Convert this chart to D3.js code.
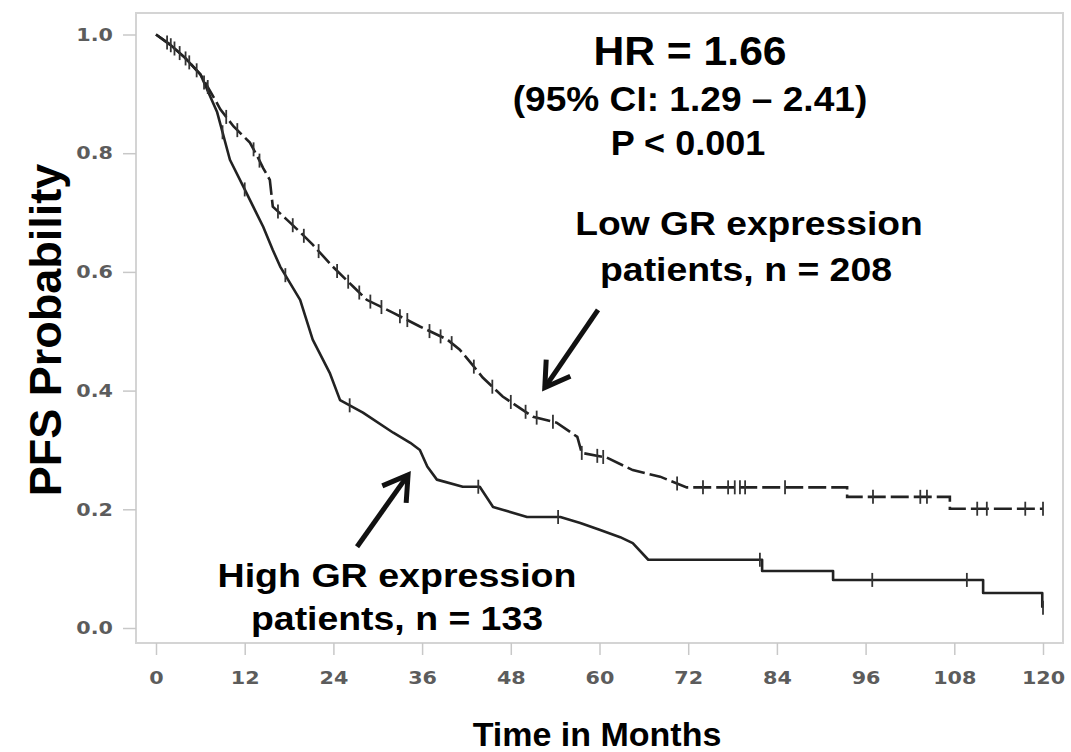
<!DOCTYPE html>
<html><head><meta charset="utf-8">
<script src="https://cdn.jsdelivr.net/npm/d3@7"></script>
<style>body{margin:0;background:#fff} svg{display:block}</style>
</head><body><svg id="c" width="1071" height="752"></svg>
<script>
// ---- data ----
const xTicks = [0,12,24,36,48,60,72,84,96,108,120];
const yTicks = [0,0.2,0.4,0.6,0.8,1.0];

// Low GR expression (upper curve)
const lowTime = [0,1.9,3.9,6.0,8.0,8.7,10.5,12.7,13.7,14.5,15.4,15.8,17.7,19.5,21.2,23.9,26.7,28.5,32.1,35.7,39.4,41.1,42.7,44.2,46.9,51.0,54.2,57.0,57.6,61.0,64.5,68.2,71.8,93.5,93.5,107.4,107.4,120];
const lowSurv = [1,0.983,0.961,0.933,0.89,0.874,0.845,0.818,0.795,0.775,0.755,0.71,0.688,0.667,0.646,0.609,0.575,0.553,0.531,0.508,0.486,0.469,0.445,0.422,0.390,0.356,0.346,0.322,0.295,0.287,0.266,0.255,0.237,0.237,0.221,0.221,0.201,0.201];
const lowCensor = [1.5,2.5,3.2,4.5,5.5,7,9.5,11,13.2,14,16.5,18.5,20,22,24.5,26,27.5,29,30.5,33,34,37,38.5,40,43,45.5,48,50,51.5,53.7,57.6,59.7,60.5,70.5,74,77.4,78.3,79,79.7,85.1,97,103.4,104.3,111.1,112.4,117.6,120];

// High GR expression (lower curve)
const highTime = [0,1.9,3.9,6.0,8.25,10.0,11.8,14.5,15.8,16.8,19.5,21.2,23.5,24.9,28.0,32.1,34.4,35.7,36.7,38.0,41.5,43.8,45.6,50.2,54.7,57.4,60.1,62.8,64.5,66.6,82.0,82.0,91.6,91.6,111.9,111.9,119.9,119.9];
const highSurv = [1,0.983,0.961,0.933,0.870,0.789,0.744,0.676,0.637,0.609,0.553,0.486,0.430,0.384,0.363,0.329,0.312,0.300,0.272,0.250,0.238,0.238,0.204,0.187,0.187,0.177,0.165,0.153,0.143,0.115,0.115,0.096,0.096,0.081,0.081,0.059,0.059,0.034];
const highCensor = [2,4,6.5,9,12,17.5,26.2,43.6,54.4,81.7,96.9,109.7,120];

// annotation text
const statLines = ["HR = 1.66","(95% CI: 1.29 \u2013 2.41)","P < 0.001"];
const lowLabel = ["Low GR expression","patients, n = 208"];
const highLabel = ["High GR expression","patients, n = 133"];
// arrows in data coords [tailMonth, tailSurv, tipMonth, tipSurv]
const lowArrow = [59.8,0.536,52.6,0.405];
const highArrow = [27.2,0.137,34.1,0.258];

// ---- drawing ----
const svg = d3.select("#c");
const font = "'Liberation Sans', Arial, Helvetica, sans-serif";
const x = d3.scaleLinear().domain([0,120]).range([156,1043]);
const y = d3.scaleLinear().domain([0,1]).range([628,34.5]);
const frame = {l:136,t:13,r:1063,b:643};

svg.append("rect").attr("x",frame.l).attr("y",frame.t)
  .attr("width",frame.r-frame.l).attr("height",frame.b-frame.t)
  .attr("fill","#fff").attr("stroke","#d4d4d4").attr("stroke-width",2);

// axes
const yAxis = svg.append("g").attr("transform",`translate(${frame.l},0)`)
  .call(d3.axisLeft(y).tickValues(yTicks).tickFormat(d3.format(".1f")).tickSize(13).tickPadding(10));
const xAxis = svg.append("g").attr("transform",`translate(0,${frame.b})`)
  .call(d3.axisBottom(x).tickValues(xTicks).tickFormat(d3.format("d")).tickSize(12).tickPadding(16));
[yAxis,xAxis].forEach(g=>{
  g.select(".domain").remove();
  g.selectAll(".tick line").attr("stroke","#c8c8c8").attr("stroke-width",1.5);
  g.selectAll(".tick text").attr("fill","#5c5c5c").attr("font-family","'DejaVu Sans', sans-serif")
    .attr("font-weight","bold").attr("font-size",18);
});
yAxis.selectAll(".tick text").attr("transform","translate(-23,0) scale(1.15,1) translate(23,0)");
xAxis.selectAll(".tick text").attr("transform","scale(1.15,1)");

// curves
const pts = (t,s)=>t.map((d,i)=>[d,s[i]]);
const line = d3.line().x(d=>x(d[0])).y(d=>y(d[1])).curve(d3.curveLinear);
function interp(t,s,v){
  for(let i=0;i<t.length-1;i++){
    if(v>=t[i] && v<=t[i+1]){
      if(t[i+1]===t[i]) return s[i];
      return s[i]+(s[i+1]-s[i])*(v-t[i])/(t[i+1]-t[i]);
    }
  }
  return s[s.length-1];
}
svg.append("path").attr("d",line(pts(highTime,highSurv)))
  .attr("fill","none").attr("stroke","#222").attr("stroke-width",2.6).attr("stroke-linejoin","round");
svg.append("path").attr("d",line(pts(lowTime,lowSurv)))
  .attr("fill","none").attr("stroke","#222").attr("stroke-width",2.6).attr("stroke-dasharray","18,5");

function censor(times,t,s){
  svg.append("g").selectAll("line").data(times).join("line")
    .attr("x1",d=>x(d)).attr("x2",d=>x(d))
    .attr("y1",d=>y(interp(t,s,d))-7).attr("y2",d=>y(interp(t,s,d))+7)
    .attr("stroke","#333").attr("stroke-width",1.8);
}
censor(lowCensor,lowTime,lowSurv);
censor(highCensor,highTime,highSurv);

// arrows
function arrow(a){
  const x1=x(a[0]),y1=y(a[1]),x2=x(a[2]),y2=y(a[3]);
  const ang=Math.atan2(y2-y1,x2-x1), L=28, sp=0.55;
  const g=svg.append("g").attr("stroke","#111").attr("stroke-width",5).attr("fill","none").attr("stroke-linecap","butt");
  g.append("line").attr("x1",x1).attr("y1",y1).attr("x2",x2).attr("y2",y2);
  g.append("polyline").attr("stroke-linejoin","miter").attr("points",[
    [x2-L*Math.cos(ang-sp),y2-L*Math.sin(ang-sp)],[x2,y2],[x2-L*Math.cos(ang+sp),y2-L*Math.sin(ang+sp)]
  ].map(p=>p.join(",")).join(" "));
}
arrow(lowArrow); arrow(highArrow);

// text (slightly widened horizontally, as in the reference)
function txt(str,cx,by,size,sx){
  svg.append("text").attr("transform",`translate(${cx},${by}) scale(${sx},1)`).attr("text-anchor","middle")
    .attr("font-family",font).attr("font-weight","bold").attr("font-size",size).attr("fill","#000").text(str);
}
txt(statLines[0],690,65,41,1.04);
txt(statLines[1],690,111,35,1.06);
txt(statLines[2],688,155,35,1.03);
txt(lowLabel[0],749,235,34,1.095);
txt(lowLabel[1],746,281,34,1.1);
txt(highLabel[0],397,587,34,1.105);
txt(highLabel[1],397,630,34,1.1);
txt("Time in Months",597,746,34,1.0);
svg.append("text").attr("transform","translate(61,330) rotate(-90)").attr("text-anchor","middle")
  .attr("font-family",font).attr("font-weight","bold").attr("font-size",45).attr("fill","#000").text("PFS Probability");
</script></body></html>
